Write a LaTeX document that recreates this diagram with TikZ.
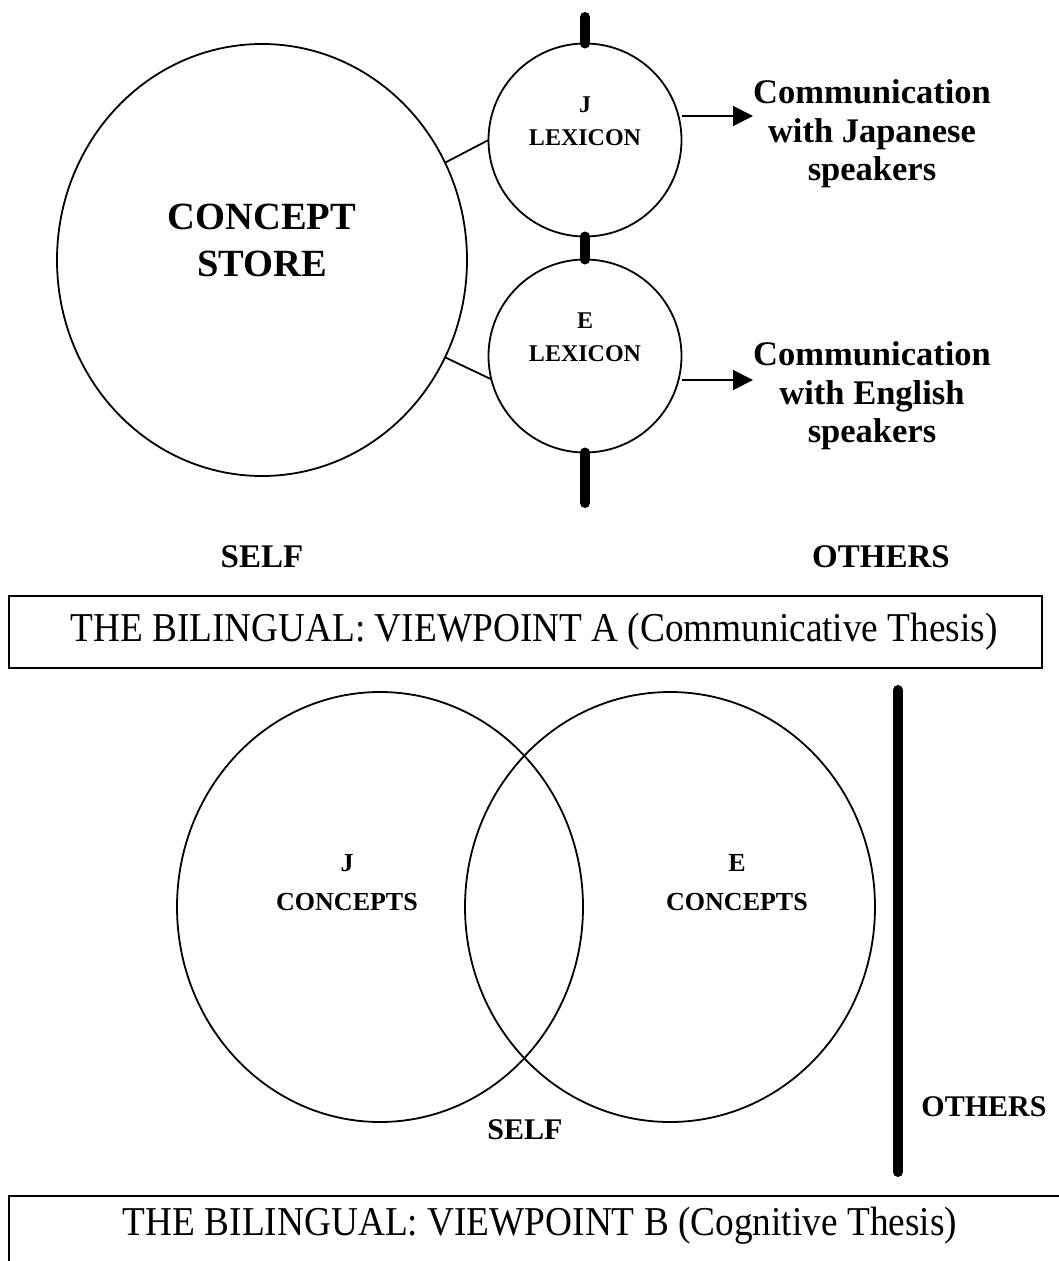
\documentclass[tikz,border=0pt]{standalone}
\usepackage{fontspec}
\setmainfont{Liberation Serif}
\usetikzlibrary{shapes.geometric,arrows.meta}
\begin{document}
\begin{tikzpicture}[x=1pt,y=-1pt,
  thin line/.style={line width=1.8pt},
  bar/.style={line width=10pt,line cap=round},
  bigell/.style={draw,thin line,ellipse,inner sep=0pt,outer sep=0pt},
  lex/.style={draw,thin line,circle,inner sep=0pt,outer sep=0pt,minimum size=193pt},
  arr/.style={thin line,-{Triangle[length=20pt,width=20pt]}},
  boxtext/.style={inner sep=0pt,font=\fontsize{41}{48}\selectfont},
  framebox/.style={line width=2.4pt}
]
\useasboundingbox (0,0) rectangle (1059,1261);
% ---------- Viewpoint A ----------
\node[bigell,minimum width=410pt,minimum height=432pt] (store) at (262,260) {};
\node[font=\bfseries\fontsize{38.5}{47}\selectfont,align=center,inner sep=0pt] (storetxt) at (262,240) {CONCEPT\\STORE};
\node[lex] (jlex) at (585,140) {};
\node[lex] (elex) at (585,356) {};
\node[font=\bfseries\fontsize{24}{33}\selectfont,align=center,inner sep=0pt] (jtxt) at (585,121) {J\\LEXICON};
\node[font=\bfseries\fontsize{24}{33}\selectfont,align=center,inner sep=0pt] (etxt) at (585,337) {E\\LEXICON};
\coordinate (bartop) at (585,17);
\coordinate (barbot) at (585,503);
\draw[bar] (bartop) -- (jlex.north);
\draw[bar] (jlex.south) -- (elex.north);
\draw[bar] (elex.south) -- (barbot);
\draw[thin line] (store.28) -- (jlex.180);
\draw[thin line] (store.-28) -- (elex.194);
\coordinate (jend) at (753,116);
\coordinate (eend) at (753,380);
\draw[arr] (jlex.east |- jend) -- (jend);
\draw[arr] (elex.east |- eend) -- (eend);
\node[font=\bfseries\fontsize{34.5}{38.5}\selectfont,align=center,inner sep=0pt] (jcomm) at (872,134) {Communication\\with Japanese\\speakers};
\node[font=\bfseries\fontsize{34.5}{38.5}\selectfont,align=center,inner sep=0pt] (ecomm) at (872,396) {Communication\\with English\\speakers};
\node[font=\bfseries\fontsize{33}{38}\selectfont,inner sep=0pt] (selfa) at (262,557) {SELF};
\node[font=\bfseries\fontsize{33}{38}\selectfont,inner sep=0pt] (othersa) at (881,557) {OTHERS};
\draw[framebox] (9,596) rectangle (1042,668);
\node[boxtext] (titlea) at (534,632) {\scalebox{0.91}[1]{THE BILINGUAL: VIEWPOINT A (Communicative Thesis)}};
% ---------- Viewpoint B ----------
\node[bigell,minimum width=406pt,minimum height=430pt] (jcon) at (380,907) {};
\node[bigell,minimum width=410pt,minimum height=430pt] (econ) at (670,907) {};
\node[font=\bfseries\fontsize{26}{39}\selectfont,align=center,inner sep=0pt] (jctxt) at (347,883) {J\\CONCEPTS};
\node[font=\bfseries\fontsize{26}{39}\selectfont,align=center,inner sep=0pt] (ectxt) at (737,883) {E\\CONCEPTS};
\coordinate (bbartop) at (898,690);
\coordinate (bbarbot) at (898,1172);
\draw[bar] (bbartop) -- (bbarbot);
\node[font=\bfseries\fontsize{30}{36}\selectfont,inner sep=0pt] (selfb) at (525,1130) {SELF};
\node[font=\bfseries\fontsize{30}{36}\selectfont,inner sep=0pt] (othersb) at (984,1107) {OTHERS};
\draw[framebox] (1075,1196) -- (9,1196) -- (9,1280);
\node[boxtext] (titleb) at (540,1226) {\scalebox{0.91}[1]{THE BILINGUAL: VIEWPOINT B (Cognitive Thesis)}};
\end{tikzpicture}
\end{document}
